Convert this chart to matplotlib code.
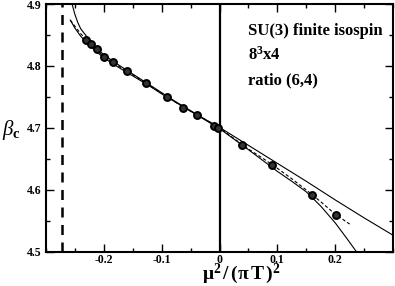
import matplotlib
matplotlib.use('Agg')
import matplotlib.pyplot as plt
from matplotlib.ticker import MultipleLocator, FixedLocator, FormatStrFormatter

plt.rcParams['font.family'] = 'Liberation Serif'
plt.rcParams['mathtext.fontset'] = 'custom'
plt.rcParams['mathtext.rm'] = 'Liberation Serif'
plt.rcParams['mathtext.it'] = 'Liberation Serif:italic'
plt.rcParams['mathtext.bf'] = 'Liberation Serif:bold'
plt.rcParams['axes.unicode_minus'] = False

# simulation points
mu2 = [-0.231, -0.222, -0.212, -0.199, -0.184, -0.160, -0.127, -0.091, -0.063,
       -0.039, -0.010, -0.002, 0.039, 0.090, 0.160, 0.202]
beta = [4.842, 4.835, 4.827, 4.815, 4.807, 4.792, 4.772, 4.750, 4.733,
        4.721, 4.703, 4.700, 4.672, 4.641, 4.592, 4.559]

# ratio fit, central value (dashed)
fit_x = [-0.258, -0.25, -0.24, -0.23, -0.215, -0.2, -0.175, -0.15, -0.125, -0.1, -0.075,
         -0.05, -0.025, 0.0, 0.025, 0.05, 0.075, 0.1, 0.125, 0.15, 0.175, 0.2, 0.225]
fit_y = [4.874, 4.864, 4.852, 4.843, 4.828, 4.815, 4.800, 4.786, 4.771, 4.756, 4.741,
         4.727, 4.714, 4.700, 4.683, 4.666, 4.651, 4.635, 4.618, 4.600, 4.581, 4.561, 4.545]

# error band, upper edge
up_x = [-0.255, -0.25, -0.245, -0.24, -0.23, -0.215, -0.2, -0.175, -0.15, -0.125, -0.1, -0.075,
        -0.05, -0.025, 0.0, 0.05, 0.1, 0.15, 0.2, 0.25, 0.3]
up_y = [4.900, 4.883, 4.870, 4.860, 4.848, 4.831, 4.818, 4.802, 4.787, 4.772, 4.757, 4.742,
        4.728, 4.714, 4.701, 4.672, 4.643, 4.614, 4.584, 4.555, 4.527]

# error band, lower edge
lo_x = [-0.258, -0.25, -0.24, -0.23, -0.215, -0.2, -0.175, -0.15, -0.125, -0.1, -0.075,
        -0.05, -0.025, 0.0, 0.05, 0.1, 0.125, 0.15, 0.175, 0.2, 0.22, 0.237]
lo_y = [4.874, 4.861, 4.848, 4.838, 4.825, 4.813, 4.798, 4.784, 4.770, 4.755, 4.741,
        4.727, 4.713, 4.699, 4.665, 4.630, 4.614, 4.597, 4.574, 4.547, 4.522, 4.500]

x_ticks = [-0.2, -0.1, 0.0, 0.1, 0.2]
mu2_limit = -0.272

fig = plt.figure(figsize=(3.95, 2.86), dpi=100)
ax = fig.add_axes([0.1165, 0.119, 0.8785, 0.867])

ax.axvline(mu2_limit, color='black', ls=(0, (4, 3)), lw=1.8)
ax.axvline(0.0, color='black', lw=1.6)

ax.plot(up_x, up_y, color='black', lw=0.8)
ax.plot(lo_x, lo_y, color='black', lw=0.8)
ax.plot(fit_x, fit_y, color='black', lw=0.8, ls=(0, (3, 2)))
ax.plot(mu2, beta, 'o', ms=5, mfc='#333333', mec='black', mew=1.4, zorder=5)

ax.set_xlim(-0.3, 0.3)
ax.set_ylim(4.5, 4.9)
ax.xaxis.set_major_locator(FixedLocator(x_ticks))
ax.xaxis.set_minor_locator(MultipleLocator(0.05))
ax.yaxis.set_major_locator(MultipleLocator(0.1))
ax.yaxis.set_minor_locator(MultipleLocator(0.05))
ax.xaxis.set_major_formatter(FormatStrFormatter('%g'))
ax.yaxis.set_major_formatter(FormatStrFormatter('%.1f'))
ax.tick_params(which='both', direction='in', top=True, right=True, width=1)
ax.tick_params(which='major', length=6, labelsize=8.5)
ax.tick_params(which='minor', length=3)
ax.tick_params(axis='x', pad=1.5)
for lab in ax.get_xticklabels() + ax.get_yticklabels():
    lab.set_fontweight('bold')
for s in ax.spines.values():
    s.set_linewidth(1.5)

fig.text(0.61, 0.0, r'$\mathbf{\mu^2\,/\,(\pi\,T\,)^2}$', fontsize=14, ha='center', va='bottom')
fig.text(0.005, 0.545, r'$\beta_{\mathbf{c}}$', fontsize=15, ha='left', va='center')

ax.text(0.582, 0.875, 'SU(3) finite isospin', transform=ax.transAxes, fontsize=12, fontweight='bold')
ax.text(0.582, 0.775, r'$\mathbf{8^3}$x4', transform=ax.transAxes, fontsize=12, fontweight='bold')
ax.text(0.582, 0.675, 'ratio (6,4)', transform=ax.transAxes, fontsize=12, fontweight='bold')

fig.savefig('out.png', dpi=100)
